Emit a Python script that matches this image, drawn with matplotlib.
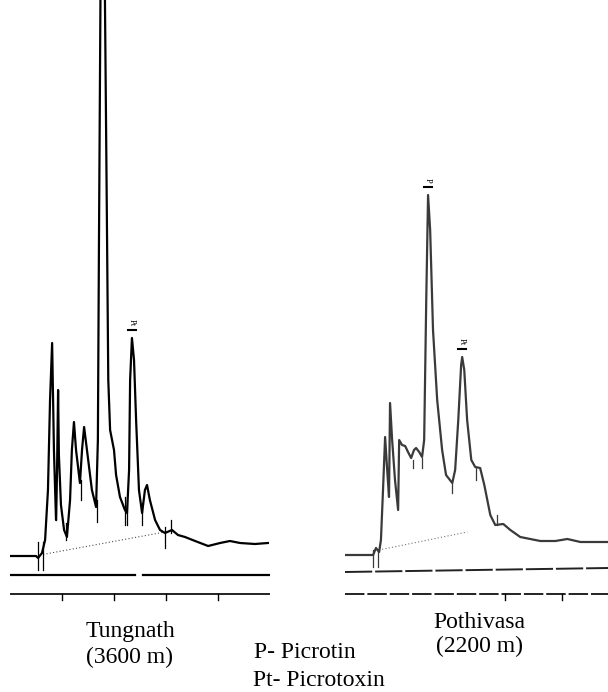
import matplotlib
matplotlib.use("Agg")
import matplotlib.pyplot as plt

# retention time (min) and detector response (arbitrary units)
tung_t = [0, 1.0, 1.08, 1.23, 1.35, 1.46, 1.54, 1.62, 1.69, 1.77, 1.81, 1.85, 1.88, 1.96,
          2.08, 2.19, 2.31, 2.38, 2.46, 2.54, 2.69, 2.77, 2.85, 2.96, 3.15, 3.31, 3.38, 3.42,
          3.48, 3.56, 3.65, 3.72, 3.78, 3.85, 4.0, 4.08, 4.23, 4.42, 4.5, 4.58, 4.62, 4.69,
          4.77, 4.85, 4.96, 5.08, 5.19, 5.27, 5.38, 5.58, 5.77, 5.96, 6.23, 6.46, 6.73, 7.12,
          7.62, 8.08, 8.46, 8.85, 9.42, 9.92]
tung_r = [5.4, 5.4, 5.2, 5.7, 7.0, 12.0, 21.0, 26.7, 16.0, 9.0, 14.0, 22.0, 15.5, 10.5,
          8.0, 7.3, 11.0, 16.0, 18.8, 16.0, 12.7, 16.0, 18.3, 16.0, 12.0, 10.3, 17.0, 36.0,
          61.5, 64.0, 61.5, 41.0, 23.0, 18.0, 16.0, 13.5, 11.3, 10.0, 9.7, 14.0, 23.0, 27.2,
          25.0, 19.0, 12.0, 9.7, 12.0, 12.5, 11.0, 9.0, 8.0, 7.7, 8.0, 7.5, 7.3, 6.9,
          6.4, 6.7, 6.9, 6.7, 6.6, 6.7]
# integrator event marks: time, lower and upper end
tung_marks = [(1.08, 4.0, 6.8), (1.27, 4.0, 6.8), (1.77, 9.0, 13.0), (2.15, 7.0, 8.7),
              (2.73, 11.0, 13.0), (3.35, 8.8, 11.0), (4.42, 8.5, 11.3), (4.5, 8.5, 11.0),
              (5.08, 8.5, 10.7), (5.96, 6.2, 8.3), (6.19, 7.7, 9.0)]
tung_base = ([1.15, 5.96], [5.5, 7.8])

poth_t = [0, 1.08, 1.19, 1.31, 1.38, 1.46, 1.54, 1.62, 1.69, 1.73, 1.81, 1.92, 2.04, 2.08,
          2.19, 2.31, 2.42, 2.54, 2.65, 2.73, 2.85, 2.96, 3.04, 3.12, 3.19, 3.27, 3.38, 3.54,
          3.73, 3.88, 4.12, 4.23, 4.35, 4.46, 4.5, 4.58, 4.69, 4.85, 5.0, 5.19, 5.35, 5.58,
          5.77, 6.08, 6.35, 6.73, 7.5, 8.08, 8.54, 9.04, 10.2]
poth_r = [5.5, 5.5, 6.2, 5.8, 7.0, 12.0, 17.3, 14.0, 11.3, 20.7, 17.0, 13.0, 10.0, 17.0,
          16.5, 16.4, 15.8, 15.2, 16.0, 16.2, 15.8, 15.3, 17.0, 31.0, 41.5, 38.0, 28.0, 21.0,
          16.0, 13.5, 12.7, 14.0, 19.0, 24.5, 25.3, 24.0, 19.0, 15.0, 14.3, 14.2, 12.5, 9.5,
          8.5, 8.6, 8.0, 7.3, 6.9, 6.9, 7.1, 6.8, 6.8]
poth_marks = [(1.08, 4.3, 6.0), (1.27, 4.3, 6.0), (2.62, 14.2, 15.0), (2.96, 14.2, 15.2),
              (4.12, 11.7, 12.7), (5.04, 13.0, 14.3), (5.85, 8.5, 9.5)]
poth_base = ([1.3, 4.7], [6.0, 7.8])

fig = plt.figure(figsize=(6.08, 6.92), dpi=100)
serif = "Liberation Serif"


def chromatogram(ax, t, r, marks, base, col, label_t, labels, ticks, gap=None):
    ax.plot(t, r, color=col, lw=1.6, solid_joinstyle="round")
    ax.plot(base[0], base[1], color=col, lw=0.8, ls=(0, (1, 2)), alpha=0.7)
    for m, lo, hi in marks:
        ax.plot([m, m], [lo, hi], color=col, lw=0.9)
    x_end = ax.get_xlim()[1]
    if gap:
        ax.plot([0, gap[0]], [3.5, 3.5], color="black", lw=1.6)
        ax.plot([gap[1], x_end], [3.5, 3.5], color="black", lw=1.6)
    else:
        ax.plot([0, x_end], [3.8, 4.2], color="#222222", lw=1.4, ls=(0, (14, 1.5)))
    ax.plot([0, x_end], [1.6, 1.6], color="#222222", lw=1.4,
            ls="-" if gap else (0, (10, 1.5)))
    for k in ticks:
        ax.plot([k, k], [1.6, 1.0], color="black", lw=1)
    for (lt, lr), txt in zip(label_t, labels):
        ax.text(lt, lr + 1.2, txt, rotation=-90, fontsize=6, ha="center", va="bottom",
                family=serif)
        ax.plot([lt - 0.15, lt + 0.15], [lr + 0.8, lr + 0.8], color="black", lw=1.5)
    ax.set_ylim(0, 61)
    ax.axis("off")


ax1 = fig.add_axes([10 / 608, 82 / 692, 260 / 608, 610 / 692])
ax1.set_xlim(0, 10)
chromatogram(ax1, tung_t, tung_r, tung_marks, tung_base, "black",
             [(4.69, 27.2)], ["Pt"], [2, 4, 6, 8], gap=(4.8, 5.1))

ax2 = fig.add_axes([345 / 608, 82 / 692, 263 / 608, 610 / 692])
ax2.set_xlim(0, 10.1)
chromatogram(ax2, poth_t, poth_r, poth_marks, poth_base, "#3a3a3a",
             [(3.19, 41.5), (4.5, 25.3)], ["P", "Pt"], [6.15, 8.35])

fs = 17
fig.text(130 / 608, 1 - 632 / 692, "Tungnath", ha="center", va="center",
         fontsize=fs, family=serif)
fig.text(130 / 608, 1 - 657 / 692, "(3600 m)", ha="center", va="center",
         fontsize=fs, family=serif)
fig.text(479 / 608, 1 - 622 / 692, "Pothivasa", ha="center", va="center",
         fontsize=fs, family=serif)
fig.text(479 / 608, 1 - 646 / 692, "(2200 m)", ha="center", va="center",
         fontsize=fs, family=serif)
fig.text(254 / 608, 1 - 653 / 692, "P- Picrotin", ha="left", va="center",
         fontsize=fs, family=serif)
fig.text(253 / 608, 1 - 681 / 692, "Pt- Picrotoxin", ha="left", va="center",
         fontsize=fs, family=serif)

fig.savefig("out.png", dpi=100, facecolor="white")
